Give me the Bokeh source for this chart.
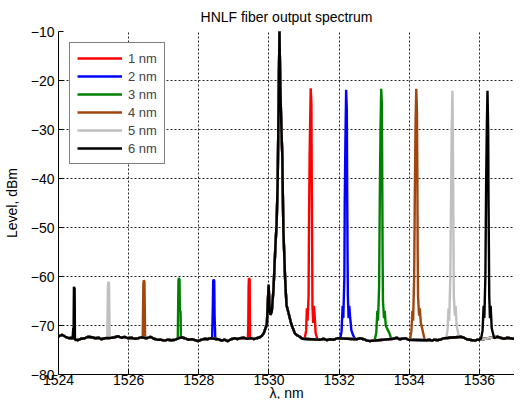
from bokeh.plotting import figure
from bokeh.models import Range1d, Legend, LegendItem, FixedTicker, Title
from bokeh.embed import file_html
from bokeh.resources import INLINE

# ---------------- data ----------------
labels = ["1 nm", "2 nm", "3 nm", "4 nm", "5 nm", "6 nm"]
colors = ["#ff0000", "#0000ff", "#008000", "#a0460f", "#c0c0c0", "#000000"]

x_ticks = [1524, 1526, 1528, 1530, 1532, 1534, 1536]
y_ticks = [-80, -70, -60, -50, -40, -30, -20, -10]

# noise floor (shared by all traces)
base_x = [1524.00, 1524.10, 1524.20, 1524.30, 1524.38, 1524.55, 1524.65, 1524.75,
          1524.84, 1524.95, 1525.05, 1525.15, 1525.22, 1525.32, 1525.52, 1525.60,
          1525.70, 1525.80, 1525.88, 1525.98, 1526.08, 1526.16, 1526.28, 1526.36,
          1526.52, 1526.62, 1526.72, 1526.82, 1526.91, 1527.02, 1527.12, 1527.22,
          1527.33, 1527.50, 1527.60, 1527.70, 1527.80, 1527.89, 1527.98, 1528.08,
          1528.18, 1528.26, 1528.34, 1528.55, 1528.65, 1528.73, 1528.82, 1528.92,
          1529.02, 1529.10, 1529.18, 1529.28, 1529.36, 1529.50, 1529.57, 1529.65,
          1529.74, 1529.80, 1530.80, 1530.88, 1530.95, 1531.47, 1531.56, 1531.65,
          1531.75, 1531.85, 1531.95, 1532.51, 1532.60, 1532.70, 1532.80, 1532.88,
          1532.96, 1533.55, 1533.65, 1533.72, 1533.80, 1533.90, 1533.97, 1534.50,
          1534.57, 1534.64, 1534.72, 1534.82, 1534.92, 1535.00, 1535.48, 1535.56,
          1535.64, 1535.72, 1535.80, 1535.87, 1535.95, 1536.00, 1536.51, 1536.60,
          1536.70, 1536.80, 1536.88, 1536.95, 1537.00]
base_y = [-72.2, -71.9, -72.3, -72.6, -72.5, -73.0, -72.7, -72.6,
          -72.3, -72.4, -72.6, -72.5, -72.8, -72.6, -72.5, -72.4,
          -72.2, -72.5, -72.3, -72.6, -72.5, -72.7, -72.6, -72.4,
          -72.6, -72.3, -72.7, -72.9, -72.9, -73.1, -72.9, -73.0,
          -72.9, -72.4, -72.6, -72.9, -72.8, -73.0, -73.2, -72.9,
          -72.7, -72.8, -72.6, -72.8, -73.1, -72.9, -73.2, -72.8,
          -72.6, -72.8, -72.6, -72.5, -72.7, -72.6, -72.8, -72.6,
          -72.4, -72.1, -72.0, -72.3, -72.7, -72.9, -72.7, -73.0,
          -72.8, -72.9, -72.6, -72.8, -72.6, -72.8, -73.1, -73.2,
          -73.1, -72.7, -72.5, -72.8, -72.7, -72.6, -72.9, -73.0,
          -72.9, -73.1, -72.9, -73.0, -72.8, -72.6, -72.3, -72.5,
          -72.8, -72.9, -73.0, -73.1, -72.9, -72.9, -72.3, -72.5,
          -72.7, -72.5, -72.6, -72.7, -72.6]

# pump peak (shared)
pump_x = [1529.85, 1529.94, 1529.99, 1530.02, 1530.04, 1530.08, 1530.13, 1530.18,
          1530.22, 1530.25, 1530.27, 1530.30, 1530.32, 1530.35, 1530.38, 1530.41,
          1530.46, 1530.50, 1530.57, 1530.64, 1530.74]
pump_y = [-71.6, -69.8, -61.7, -67.0, -67.8, -67.2, -62.5, -54.4,
          -48.9, -40.2, -27.3, -9.5, -20.0, -28.7, -35.4, -50.3,
          -60.4, -65.8, -67.8, -69.8, -71.6]

# signal peaks
sig1_x = [1531.02, 1531.06, 1531.08, 1531.10, 1531.13, 1531.14, 1531.16, 1531.19, 1531.21,
          1531.22, 1531.23, 1531.24, 1531.26, 1531.28, 1531.30, 1531.33, 1531.38]
sig1_y = [-72.6, -71.0, -66.5, -69.0, -64.0, -50.0, -35.0, -21.6, -24.5,
          -40.0, -52.0, -66.0, -69.5, -66.0, -67.5, -71.5, -72.8]
sig2_x = [1532.03, 1532.07, 1532.10, 1532.12, 1532.15, 1532.16, 1532.18, 1532.20, 1532.22,
          1532.23, 1532.24, 1532.25, 1532.27, 1532.29, 1532.31, 1532.35, 1532.40, 1532.46]
sig2_y = [-72.7, -71.2, -66.0, -68.5, -60.0, -45.0, -32.0, -21.9, -26.0,
          -42.0, -55.0, -64.0, -68.5, -66.0, -68.0, -71.0, -72.0, -72.8]
sig3_x = [1533.02, 1533.06, 1533.09, 1533.11, 1533.14, 1533.16, 1533.18, 1533.20, 1533.22,
          1533.23, 1533.24, 1533.25, 1533.28, 1533.30, 1533.33, 1533.38, 1533.43, 1533.48]
sig3_y = [-72.8, -71.5, -67.0, -69.0, -62.0, -44.0, -30.0, -21.7, -25.0,
          -40.0, -56.0, -65.0, -68.5, -67.0, -70.0, -70.8, -71.5, -72.6]
sig4_x = [1534.02, 1534.06, 1534.09, 1534.11, 1534.14, 1534.16, 1534.18, 1534.20, 1534.22,
          1534.23, 1534.24, 1534.25, 1534.28, 1534.30, 1534.33, 1534.38, 1534.44]
sig4_y = [-72.9, -71.2, -67.0, -69.0, -60.0, -42.0, -28.0, -21.7, -26.6,
          -38.0, -55.0, -64.0, -68.0, -66.5, -69.5, -71.0, -72.9]
sig5_x = [1535.05, 1535.09, 1535.12, 1535.14, 1535.17, 1535.19, 1535.21, 1535.23,
          1535.24, 1535.25, 1535.26, 1535.27, 1535.30, 1535.32, 1535.35, 1535.42]
sig5_y = [-72.8, -71.0, -66.5, -69.0, -60.0, -45.0, -30.0, -22.1,
          -30.0, -38.1, -52.0, -64.0, -68.0, -66.0, -70.0, -72.5]
sig6_x = [1536.05, 1536.09, 1536.12, 1536.14, 1536.17, 1536.19, 1536.21, 1536.23,
          1536.25, 1536.26, 1536.27, 1536.28, 1536.30, 1536.32, 1536.35, 1536.42]
sig6_y = [-72.6, -71.0, -66.0, -68.5, -60.0, -42.0, -30.0, -22.1,
          -30.3, -45.0, -54.0, -64.0, -68.5, -66.0, -70.5, -72.6]

# idler peaks
idl1_x = [1529.40, 1529.41, 1529.42, 1529.43, 1529.45, 1529.46]
idl1_y = [-72.7, -69.9, -62.0, -60.3, -60.6, -72.5]
idl2_x = [1528.38, 1528.40, 1528.41, 1528.42, 1528.44, 1528.45, 1528.47]
idl2_y = [-72.8, -66.0, -61.0, -60.6, -60.9, -68.0, -72.8]
idl3_x = [1527.40, 1527.42, 1527.43, 1527.45, 1527.46, 1527.48, 1527.49]
idl3_y = [-72.6, -61.0, -60.3, -60.6, -66.9, -67.2, -72.5]
idl4_x = [1526.40, 1526.42, 1526.43, 1526.45, 1526.47]
idl4_y = [-72.6, -61.5, -60.8, -61.0, -72.7]
idl5_x = [1525.39, 1525.41, 1525.42, 1525.44, 1525.46]
idl5_y = [-72.7, -62.0, -61.1, -61.4, -72.5]
idl6_x = [1524.40, 1524.42, 1524.43, 1524.44, 1524.46, 1524.47]
idl6_y = [-72.8, -70.6, -70.6, -62.1, -62.5, -72.9]

series_peaks = [
    [(idl1_x, idl1_y), (pump_x, pump_y), (sig1_x, sig1_y)],
    [(idl2_x, idl2_y), (pump_x, pump_y), (sig2_x, sig2_y)],
    [(idl3_x, idl3_y), (pump_x, pump_y), (sig3_x, sig3_y)],
    [(idl4_x, idl4_y), (pump_x, pump_y), (sig4_x, sig4_y)],
    [(idl5_x, idl5_y), (pump_x, pump_y), (sig5_x, sig5_y)],
    [(idl6_x, idl6_y), (pump_x, pump_y), (sig6_x, sig6_y)],
]


def assemble(peaks):
    spans = [(min(px), max(px)) for px, _ in peaks]
    pts = [(x, y) for x, y in zip(base_x, base_y)
           if not any(a <= x <= b for a, b in spans)]
    for px, py in peaks:
        pts += list(zip(px, py))
    pts.sort()
    return [a for a, _ in pts], [b for _, b in pts]


FONT = "Liberation Sans"

p = figure(width=514, height=399, output_backend="svg", toolbar_location=None,
           x_range=Range1d(1524, 1537), y_range=Range1d(-80, -10),
           min_border_left=0, min_border_right=0, min_border_top=0,
           min_border_bottom=0, title="HNLF fiber output spectrum")

p.title.align = "center"
p.title.text_font = FONT
p.title.text_font_size = "14px"
p.title.text_font_style = "normal"
p.title.text_color = "#000000"
p.title.standoff = 13
p.outline_line_color = None
p.background_fill_color = "white"
p.border_fill_color = "white"

for ax in (p.xaxis[0], p.yaxis[0]):
    ax.axis_line_color = "black"
    ax.major_tick_line_color = "black"
    ax.major_tick_in = 5
    ax.major_tick_out = 0
    ax.minor_tick_line_color = None
    ax.major_label_text_font = FONT
    ax.major_label_text_font_size = "14px"
    ax.major_label_text_color = "black"
    ax.axis_label_text_font = FONT
    ax.axis_label_text_font_size = "14px"
    ax.axis_label_text_font_style = "normal"
    ax.axis_label_text_color = "black"

p.xaxis.ticker = FixedTicker(ticks=x_ticks)
p.yaxis.ticker = FixedTicker(ticks=y_ticks)
p.xaxis.major_label_standoff = 0
p.yaxis.major_label_standoff = 4
p.yaxis.axis_label = "Level, dBm"
p.yaxis.axis_label_standoff = 8

# x-axis title, set tight under the tick labels
p.add_layout(Title(text="λ, nm", align="center", vertical_align="top",
                   text_font=FONT, text_font_size="14px",
                   text_font_style="normal", text_color="black",
                   standoff=-6), "below")

p.grid.grid_line_color = "black"
p.grid.grid_line_dash = "2 2"
p.grid.grid_line_width = 1
p.grid.grid_line_alpha = 0.85

items = []
for lab, col, peaks in zip(labels, colors, series_peaks):
    xs, ys = assemble(peaks)
    r = p.line(xs, ys, line_color=col, line_width=2.4)
    items.append(LegendItem(label=lab, renderers=[r]))

legend = Legend(items=items, location="top_left")
legend.margin = 11
legend.padding = 7
legend.spacing = 2
legend.glyph_height = 16
legend.label_height = 16
legend.glyph_width = 45
legend.label_standoff = 6
legend.label_text_font = FONT
legend.label_text_font_size = "13px"
legend.border_line_color = "black"
legend.border_line_width = 1
legend.background_fill_alpha = 1
p.add_layout(legend)

open("out.html", "w").write(file_html(p, INLINE))
